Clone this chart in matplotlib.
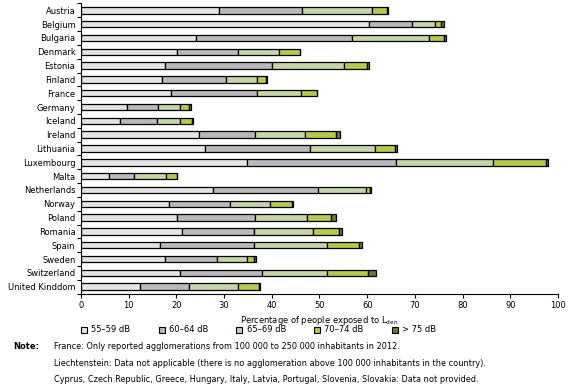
import matplotlib
matplotlib.use("Agg")
import matplotlib.pyplot as plt
import numpy as np
from matplotlib.patches import Patch

countries = ["Austria", "Belgium", "Bulgaria", "Denmark", "Estonia", "Finland",
             "France", "Germany", "Iceland", "Ireland", "Lithuania", "Luxembourg",
             "Malta", "Netherlands", "Norway", "Poland", "Romania", "Spain",
             "Sweden", "Switzerland", "United Kinddom"]

db55 = [29.0, 60.4, 24.2, 20.2, 17.7, 17.0, 18.9, 9.7, 8.2, 24.7, 25.9, 34.7,
        5.9, 27.7, 18.5, 20.2, 21.2, 16.6, 17.7, 20.8, 12.4]
db60 = [17.4, 8.9, 32.7, 12.8, 22.4, 13.5, 17.9, 6.5, 7.8, 11.8, 22.2, 31.4,
        5.3, 22.0, 12.8, 16.3, 15.1, 19.7, 10.9, 17.2, 10.3]
db65 = [14.7, 5.0, 16.1, 8.6, 15.1, 6.5, 9.4, 4.6, 4.8, 10.5, 13.6, 20.3,
        6.7, 10.1, 8.4, 10.9, 12.4, 15.3, 6.3, 13.6, 10.2]
db70 = [3.1, 1.2, 3.0, 4.3, 4.7, 1.7, 3.2, 1.9, 2.5, 6.5, 4.2, 11.1,
        2.2, 0.8, 4.6, 5.1, 5.4, 6.7, 1.4, 8.6, 4.5]
db75 = [0.2, 0.6, 0.5, 0.1, 0.4, 0.3, 0.1, 0.3, 0.1, 0.9, 0.4, 0.4,
        0.1, 0.1, 0.1, 1.0, 0.7, 0.7, 0.4, 1.6, 0.05]

series_labels = ["55\u201359 dB", "60\u201364 dB", "65\u201369 dB", "70\u201374 dB", "> 75 dB"]
colors = ["#e4e4e4", "#b9b9bd", "#c5d5a5", "#b5c94a", "#6c7a2e"]

notes = [
    "France: Only reported agglomerations from 100 000 to 250 000 inhabitants in 2012.",
    "Liechtenstein: Data not applicable (there is no agglomeration above 100 000 inhabitants in the country).",
    "Cyprus, Czech Republic, Greece, Hungary, Italy, Latvia, Portugal, Slovenia, Slovakia: Data not provided.",
]

fs = 6
fig = plt.figure(figsize=(5.79, 3.92), dpi=100)
ax = fig.add_axes([0.1399, 0.251, 0.8238, 0.7403])

y = np.arange(len(countries))
left = np.zeros(len(countries))
for vals, col in zip([db55, db60, db65, db70, db75], colors):
    ax.barh(y, vals, left=left, height=0.47, color=col, edgecolor="black", linewidth=0.9)
    left += np.array(vals)

ax.set_ylim(len(countries) - 0.5, -0.5)
ax.set_xlim(0, 100)
ax.set_yticks(y)
ax.set_yticklabels(countries, fontsize=fs)
ax.set_yticks(np.arange(-0.5, len(countries), 1), minor=True)
ax.tick_params(axis="y", which="major", length=0, pad=4)
ax.tick_params(axis="y", which="minor", length=3, width=0.8)
ax.set_xticks(np.arange(0, 101, 10))
ax.tick_params(axis="x", labelsize=fs, length=3, width=0.8, pad=2)
ax.spines["top"].set_visible(False)
ax.spines["right"].set_visible(False)
ax.spines["left"].set_linewidth(0.8)
ax.spines["bottom"].set_linewidth(0.8)
ax.set_xlabel(r"Percentage of people exposed to L$_{\mathrm{den}}$", fontsize=fs, labelpad=3)

handles = [Patch(facecolor=c, edgecolor="black", linewidth=0.8) for c in colors]
fig.legend(handles, series_labels, loc="center left", bbox_to_anchor=(0.140, 1 - 330 / 392),
           ncol=5, frameon=False, fontsize=fs, handlelength=0.75, handleheight=0.75,
           handletextpad=0.5, columnspacing=3.35, borderpad=0, borderaxespad=0)

fig.text(13 / 579, 1 - 346.5 / 392, "Note:", fontsize=fs, fontweight="bold", va="center")
for i, line in enumerate(notes):
    fig.text(54 / 579, 1 - (346.5 + 16.5 * i) / 392, line, fontsize=5.9, va="center")

fig.savefig("out.png", dpi=100)
